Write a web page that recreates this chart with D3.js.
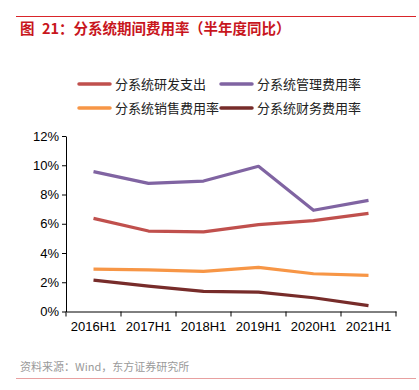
<!DOCTYPE html>
<html><head><meta charset="utf-8">
<script src="https://cdn.jsdelivr.net/npm/d3@7/dist/d3.min.js"></script>
<style>body{margin:0;background:#fff}svg{display:block}</style>
</head><body>
<svg id="c" width="419" height="390"></svg>
<script>
const categories = ["2016H1","2017H1","2018H1","2019H1","2020H1","2021H1"];
const seriesNames = ["分系统研发支出","分系统管理费用率","分系统销售费用率","分系统财务费用率"];
const rd      = [6.37, 5.50, 5.44, 5.94, 6.21, 6.71];
const admin   = [9.56, 8.76, 8.92, 9.93, 6.92, 7.60];
const sales   = [2.90, 2.84, 2.75, 3.02, 2.58, 2.47];
const finance = [2.15, 1.74, 1.38, 1.33, 0.94, 0.40];
const yTicks  = [0, 2, 4, 6, 8, 10, 12];
const colors  = ["#C0504D", "#8064A2", "#F79646", "#772C2A"];
const series = [rd, admin, sales, finance];

const svg = d3.select("#c");
const font = "'Liberation Sans', Arial, 'Noto Sans CJK SC', sans-serif";
const cjk = "'Noto Sans CJK SC', 'Liberation Sans', sans-serif";

// header rule and title
svg.append("line").attr("x1",16).attr("x2",416).attr("y1",16.5).attr("y2",16.5)
  .attr("stroke","#D9252A").attr("stroke-width",1);
const title = svg.append("text").attr("y",34).attr("fill","#C8161D")
  .attr("font-family",cjk).attr("font-weight","bold").attr("font-size",14.5);
title.append("tspan").attr("x",20).text("图");
title.append("tspan").attr("x",42).text("21：分系统期间费用率");
title.append("tspan").attr("x",189).text("（半年度同比）");

// scales
const x = d3.scaleBand().domain(categories).range([66, 396]);
const y = d3.scaleLinear().domain([0, 12]).range([311.5, 136]);

// axes
const yAxis = d3.axisLeft(y).tickValues(yTicks).tickFormat(d => d + "%").tickSize(4).tickSizeOuter(0);
const gy = svg.append("g").attr("transform","translate(66,0)").call(yAxis);
gy.select(".domain").attr("stroke","#000");
gy.selectAll(".tick line").attr("stroke","#000");
gy.selectAll(".tick text").attr("font-family",font).attr("font-size",13).attr("fill","#000").attr("x",-7);

const xAxis = d3.axisBottom(x).tickSize(0).tickSizeOuter(0);
const gx = svg.append("g").attr("transform","translate(0,311.5)").call(xAxis);
gx.select(".domain").attr("stroke","#000");
gx.selectAll(".tick text").attr("font-family",font).attr("font-size",13).attr("fill","#000").attr("dy","1.25em");
// boundary ticks between bands
const edges = categories.map(c => x(c)).concat([x.range()[1]]);
gx.selectAll(".edge").data(edges).enter().append("line")
  .attr("x1",d=>d).attr("x2",d=>d).attr("y1",0).attr("y2",5).attr("stroke","#000");

// lines
const line = d3.line().x((d,i) => x(categories[i]) + x.bandwidth()/2).y(d => y(d));
series.forEach((s, k) => {
  svg.append("path").datum(s).attr("d", line).attr("fill","none")
    .attr("stroke", colors[k]).attr("stroke-width", 3.2).attr("stroke-linejoin","round");
});

// legend
const legPos = [[79,84],[221,84],[79,108],[221,108]];
seriesNames.forEach((n, k) => {
  const [lx, ly] = legPos[k];
  svg.append("line").attr("x1",lx).attr("x2",lx+31).attr("y1",ly).attr("y2",ly)
    .attr("stroke",colors[k]).attr("stroke-width",3.5).attr("stroke-linecap","round");
  svg.append("text").attr("x",lx+36).attr("y",ly+5).attr("font-family",cjk)
    .attr("font-size",13).attr("fill","#222").text(n);
});

// source and bottom rule
svg.append("text").attr("x",20).attr("y",371).attr("font-family",cjk)
  .attr("font-size",11).attr("fill","#9a9a9a").text("资料来源：Wind，东方证券研究所");
svg.append("line").attr("x1",16).attr("x2",416).attr("y1",378.5).attr("y2",378.5)
  .attr("stroke","#E8A0A0").attr("stroke-width",1);
</script>
</body></html>
